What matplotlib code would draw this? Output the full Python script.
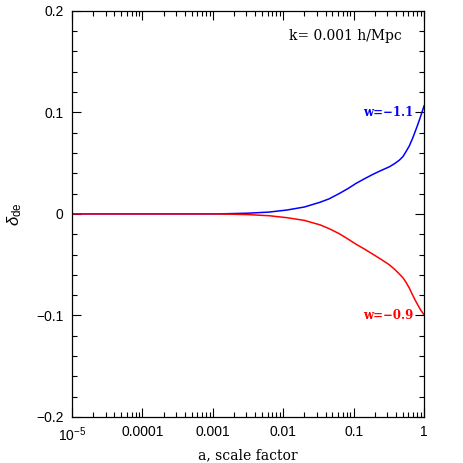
import numpy as np
import matplotlib
matplotlib.use('Agg')
import matplotlib.pyplot as plt
from matplotlib.ticker import FixedLocator, LogLocator, MultipleLocator, FixedFormatter

plt.rcParams['mathtext.fontset'] = 'custom'
plt.rcParams['mathtext.rm'] = 'Liberation Sans'
plt.rcParams['mathtext.it'] = 'Liberation Sans:italic'

# log10 of the scale factor at the points
log_a = [-5, -3, -2.8, -2.5, -2.2, -1.95, -1.7, -1.477, -1.35, -1.204, -1.08,
         -0.968, -0.85, -0.732, -0.61, -0.496, -0.42, -0.354, -0.30, -0.26,
         -0.21, -0.166, -0.13, -0.095, -0.05, 0]
delta_w11 = [0.0, 0.0, 0.0002, 0.0007, 0.0018, 0.0038, 0.0068, 0.0115, 0.0148,
             0.0201, 0.025, 0.030, 0.0345, 0.0388, 0.0428, 0.0463, 0.0495,
             0.0528, 0.0565, 0.061, 0.067, 0.074, 0.0805, 0.087, 0.096, 0.1065]
delta_w09 = [0.0, 0.0, -0.0002, -0.0007, -0.0018, -0.0037, -0.0064, -0.0108,
             -0.0145, -0.0195, -0.0248, -0.0298, -0.0345, -0.0395, -0.0448,
             -0.050, -0.0545, -0.059, -0.063, -0.067, -0.073, -0.0795, -0.0845,
             -0.089, -0.0945, -0.0995]

x_ticks = [1e-5, 1e-4, 1e-3, 1e-2, 1e-1, 1]
x_ticklabels = [r'$10^{-5}$', '0.0001', '0.001', '0.01', '0.1', '1']
y_ticks = [-0.2, -0.1, 0, 0.1, 0.2]
y_ticklabels = ['\u22120.2', '\u22120.1', '0', '0.1', '0.2']

a_vals = 10.0 ** np.array(log_a)

fig = plt.figure(figsize=(4.63, 4.63), dpi=100)
ax = fig.add_axes([0.1555, 0.0994, 0.7605, 0.8772])

ax.plot(a_vals, delta_w11, color='#0000ff', lw=1.1)
ax.plot(a_vals, delta_w09, color='#ff0000', lw=1.1)

ax.set_xscale('log')
ax.set_xlim(1e-5, 1)
ax.set_ylim(-0.2, 0.2)

ax.xaxis.set_major_locator(FixedLocator(x_ticks))
ax.xaxis.set_major_formatter(FixedFormatter(x_ticklabels))
ax.xaxis.set_minor_locator(LogLocator(base=10, subs=np.arange(2, 10)))
ax.yaxis.set_major_locator(FixedLocator(y_ticks))
ax.yaxis.set_major_formatter(FixedFormatter(y_ticklabels))
ax.yaxis.set_minor_locator(MultipleLocator(0.02))

ax.tick_params(which='both', direction='in', top=True, right=True, width=0.8)
ax.tick_params(which='major', length=6.5, pad=6, labelsize=10)
ax.tick_params(which='minor', length=3.3)
for lab in ax.get_xticklabels() + ax.get_yticklabels():
    lab.set_family('Liberation Sans')
for s in ax.spines.values():
    s.set_linewidth(0.9)

ax.set_xlabel('a, scale factor', family='DejaVu Serif', fontsize=10, labelpad=3)
ax.set_ylabel(r'$\delta_{\rm de}$', fontsize=12, labelpad=9)

ax.text(0.9375, 0.938, 'k= 0.001 h/Mpc', transform=ax.transAxes, ha='right',
        va='center', family='DejaVu Serif', fontsize=10)
ax.text(0.70, 0.1, 'w=\u22121.1', color='#0000ff', ha='right', va='center',
        family='DejaVu Serif', fontweight='bold', fontsize=8.5)
ax.text(0.70, -0.1, 'w=\u22120.9', color='#ff0000', ha='right', va='center',
        family='DejaVu Serif', fontweight='bold', fontsize=8.5)

fig.savefig('out.png', dpi=100)
